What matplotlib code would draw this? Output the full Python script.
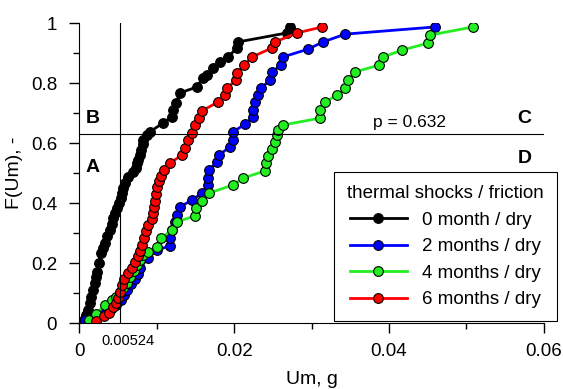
import numpy as np
import matplotlib.pyplot as plt
from matplotlib.ticker import MultipleLocator

plt.rcParams['font.family'] = ['Liberation Sans', 'DejaVu Sans']

# 0 month / dry
x0 = [0.00058, 0.00084, 0.0011, 0.00136, 0.00149, 0.00175, 0.0020, 0.00213, 0.00226, 0.00252,
      0.00278, 0.00304, 0.0033, 0.00356, 0.00394, 0.0042, 0.00433, 0.00459, 0.00485, 0.00511,
      0.00537, 0.0055, 0.00562, 0.00588, 0.00627, 0.00692, 0.00731, 0.00743, 0.00756, 0.00782,
      0.00795, 0.00821, 0.00825, 0.00873, 0.00912, 0.0108, 0.01196, 0.01209, 0.01248, 0.0130,
      0.01519, 0.01597, 0.01649, 0.01726, 0.01817, 0.0192, 0.02036, 0.02049, 0.02683, 0.02722]
y0 = [0.011, 0.028, 0.044, 0.068, 0.088, 0.111, 0.134, 0.154, 0.171, 0.201,
      0.234, 0.251, 0.268, 0.291, 0.311, 0.331, 0.351, 0.368, 0.384, 0.401,
      0.418, 0.434, 0.451, 0.468, 0.488, 0.504, 0.518, 0.534, 0.544, 0.561,
      0.578, 0.598, 0.611, 0.628, 0.638, 0.668, 0.688, 0.711, 0.734, 0.768,
      0.788, 0.818, 0.828, 0.851, 0.871, 0.888, 0.918, 0.938, 0.968, 0.988]

# 2 months / dry
x2 = [0.00071, 0.0020, 0.00317, 0.00407, 0.00472, 0.00537, 0.00575, 0.00614, 0.00666, 0.00718,
      0.00756, 0.00782, 0.00886, 0.01002, 0.0117, 0.0117, 0.01196, 0.01235, 0.01261, 0.0130,
      0.01455, 0.01584, 0.01662, 0.01662, 0.01674, 0.01778, 0.01804, 0.01946, 0.01985, 0.01985,
      0.0214, 0.02243, 0.02243, 0.02269, 0.02308, 0.02347, 0.02463, 0.02489, 0.02605, 0.02631,
      0.02954, 0.03148, 0.03433, 0.04597]
y2 = [0.011, 0.024, 0.034, 0.048, 0.061, 0.078, 0.094, 0.111, 0.131, 0.148,
      0.164, 0.184, 0.218, 0.244, 0.258, 0.284, 0.311, 0.338, 0.361, 0.388,
      0.411, 0.434, 0.461, 0.484, 0.511, 0.538, 0.561, 0.588, 0.611, 0.638,
      0.664, 0.688, 0.711, 0.738, 0.761, 0.784, 0.811, 0.838, 0.861, 0.888,
      0.914, 0.938, 0.964, 0.988]

# 4 months / dry
x4 = [0.00123, 0.00213, 0.0033, 0.0042, 0.00472, 0.00524, 0.00562, 0.00614, 0.00653, 0.00705,
      0.00743, 0.00782, 0.00821, 0.00886, 0.01002, 0.01054, 0.01196, 0.01261, 0.01493, 0.01506,
      0.01584, 0.01674, 0.01985, 0.02114, 0.02398, 0.02411, 0.02437, 0.02489, 0.02528, 0.02554,
      0.02567, 0.02631, 0.0311, 0.0311, 0.03174, 0.0333, 0.03433, 0.03472, 0.03562, 0.03873,
      0.03924, 0.0417, 0.04506, 0.04532, 0.05088]
y4 = [0.011, 0.031, 0.061, 0.078, 0.088, 0.101, 0.118, 0.134, 0.154, 0.174,
      0.194, 0.211, 0.228, 0.238, 0.254, 0.284, 0.311, 0.338, 0.358, 0.384,
      0.408, 0.434, 0.461, 0.484, 0.508, 0.534, 0.558, 0.581, 0.604, 0.628,
      0.644, 0.661, 0.684, 0.711, 0.738, 0.761, 0.784, 0.811, 0.838, 0.861,
      0.888, 0.911, 0.934, 0.961, 0.988]

# 6 months / dry
x6 = [0.00213, 0.00317, 0.00381, 0.00433, 0.00472, 0.00498, 0.00524, 0.0055, 0.00575, 0.00627,
      0.00679, 0.00718, 0.00756, 0.00782, 0.00808, 0.00834, 0.0086, 0.00886, 0.00937, 0.0095,
      0.00963, 0.00976, 0.00989, 0.01002, 0.01028, 0.01054, 0.01093, 0.0117, 0.01325, 0.01364,
      0.01403, 0.01455, 0.01493, 0.01545, 0.01584, 0.01791, 0.01881, 0.01907, 0.02024, 0.02036,
      0.02127, 0.0223, 0.02489, 0.02528, 0.02812, 0.03136]
y6 = [0.008, 0.024, 0.034, 0.054, 0.068, 0.084, 0.104, 0.128, 0.148, 0.168,
      0.184, 0.204, 0.224, 0.241, 0.261, 0.284, 0.308, 0.328, 0.348, 0.368,
      0.388, 0.408, 0.431, 0.454, 0.474, 0.491, 0.511, 0.534, 0.561, 0.584,
      0.611, 0.634, 0.661, 0.684, 0.708, 0.738, 0.761, 0.784, 0.811, 0.834,
      0.861, 0.888, 0.918, 0.938, 0.968, 0.988]

labels = ['0 month / dry', '2 months / dry', '4 months / dry', '6 months / dry']
colors = ['#000000', '#0000ff', '#22ee22', '#ff0000']
um_char = 0.00524
p_char = 0.632

fig = plt.figure(figsize=(5.63, 3.89), dpi=100)
ax = fig.add_axes([0.141, 0.169, 0.825, 0.771])

for xs, ys, lab, col in zip([x0, x2, x4, x6], [y0, y2, y4, y6], labels, colors):
    ax.plot(xs, ys, '-o', color=col, lw=2, ms=7, mfc=col, mec='black', mew=0.8, label=lab)

# lignes caracteristiques
ax.plot([um_char, um_char], [0, 1], color='black', lw=0.8)
ax.plot([0, 0.06], [p_char, p_char], color='black', lw=0.8)

ax.set_xlim(0, 0.06)
ax.set_ylim(0, 1)
ax.xaxis.set_minor_locator(MultipleLocator(0.01))
ax.yaxis.set_minor_locator(MultipleLocator(0.1))
ax.set_xticks([0, 0.02, 0.04, 0.06])
ax.set_xticklabels(['0', '0.02', '0.04', '0.06'])
ax.set_yticks([0, 0.2, 0.4, 0.6, 0.8, 1])
ax.set_yticklabels(['0', '0.2', '0.4', '0.6', '0.8', '1'])
ax.tick_params(which='major', length=7, width=1, labelsize=13.5)
ax.tick_params(axis='x', which='major', pad=7)
ax.tick_params(axis='y', which='major', pad=9)
ax.tick_params(which='minor', length=4, width=1)
ax.spines['top'].set_visible(False)
ax.spines['right'].set_visible(False)

ax.set_xlabel('Um, g', fontsize=14, labelpad=8)
ax.set_ylabel('F(Um), -', fontsize=14, labelpad=6)

ax.text(0.0028, -0.058, '0.00524', fontsize=10.5, ha='left', va='center', clip_on=False)
ax.text(0.0008, 0.684, 'B', fontsize=14, fontweight='bold', va='center')
ax.text(0.0008, 0.518, 'A', fontsize=14, fontweight='bold', va='center')
ax.text(0.0566, 0.684, 'C', fontsize=14, fontweight='bold', va='center')
ax.text(0.0566, 0.551, 'D', fontsize=14, fontweight='bold', va='center')
ax.text(0.0427, 0.668, 'p = 0.632', fontsize=12.5, ha='center', va='center')

leg = ax.legend(title='thermal shocks / friction', loc='upper left',
                bbox_to_anchor=(0.548, 0.504), borderaxespad=0, fontsize=13.5,
                title_fontsize=13.5, fancybox=False, framealpha=1, edgecolor='black',
                handlelength=3.0, labelspacing=0.5, borderpad=0.7)
leg.get_frame().set_linewidth(0.8)

plt.savefig('out.png', dpi=100)
